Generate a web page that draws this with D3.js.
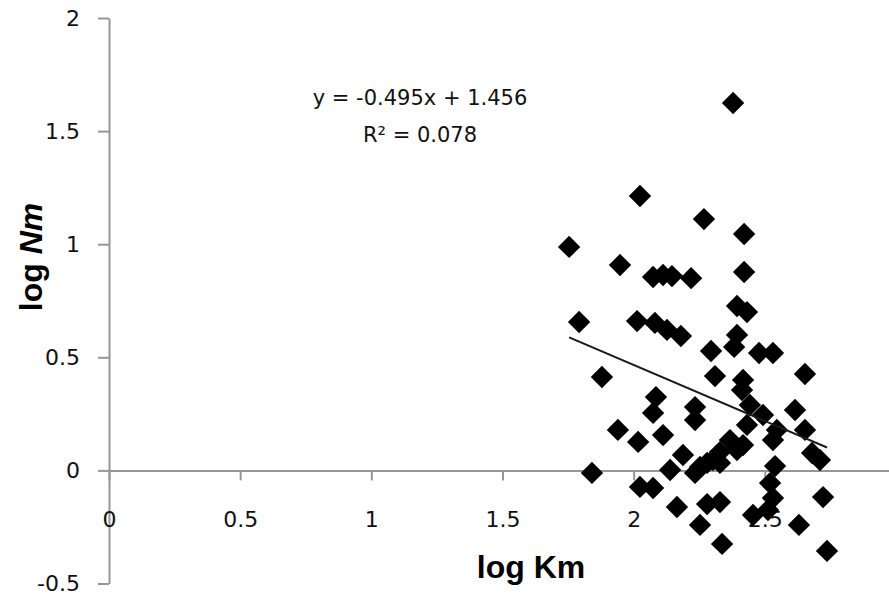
<!DOCTYPE html>
<html>
<head>
<meta charset="utf-8">
<script src="https://cdn.jsdelivr.net/npm/d3@7"></script>
<style>
  html, body { margin: 0; padding: 0; background: white; }
  svg { display: block; }
</style>
</head>
<body>
<div id="chart"></div>
<script>
// log Km / log Nm values
var logKm = [2.379, 2.024, 2.268, 2.421, 1.754, 1.948, 2.074, 2.112, 2.146, 2.219,
    2.421, 1.792, 2.013, 2.081, 2.127, 2.180, 2.394, 2.432, 2.295, 2.383,
    2.394, 2.478, 2.531, 2.310, 2.417, 2.413, 2.653, 1.879, 2.085, 2.074,
    2.234, 2.234, 2.443, 2.493, 2.615, 2.653, 2.432, 2.531, 2.546, 2.710,
    2.680, 2.367, 2.417, 2.329, 2.302, 2.253, 2.188, 2.234, 2.539, 2.520,
    2.531, 2.512, 2.722, 2.280, 2.329, 2.165, 2.253, 2.455, 2.630, 2.337,
    2.737, 1.940, 2.017, 2.112, 2.139, 1.841, 2.024, 2.074, 2.280, 2.329,
    2.394];
var logNm = [1.624, 1.213, 1.111, 1.045, 0.988, 0.908, 0.855, 0.864, 0.859, 0.850,
    0.877, 0.656, 0.660, 0.652, 0.621, 0.594, 0.727, 0.700, 0.528, 0.546,
    0.599, 0.519, 0.519, 0.417, 0.400, 0.355, 0.426, 0.413, 0.324, 0.254,
    0.280, 0.223, 0.289, 0.245, 0.267, 0.179, 0.201, 0.134, 0.179, 0.046,
    0.077, 0.134, 0.112, 0.081, 0.046, 0.015, 0.068, -0.011, 0.019, -0.056,
    -0.122, -0.175, -0.118, -0.149, -0.140, -0.162, -0.241, -0.197, -0.241, -0.325,
    -0.356, 0.179, 0.126, 0.156, 0.002, -0.011, -0.073, -0.078, 0.033, 0.033,
    0.090];

var xTicks = [0, 0.5, 1, 1.5, 2, 2.5, 3];
var xTickLabels = ["0", "0.5", "1", "1.5", "2", "2.5", "3"];
var yTicks = [-0.5, 0, 0.5, 1, 1.5, 2];
var yTickLabels = ["-0.5", "0", "0.5", "1", "1.5", "2"];

var slope = -0.495;
var intercept = 1.456;
var eqText = "y = -0.495x + 1.456";
var r2Text = "R² = 0.078";

var width = 889, height = 596;
var axisColor = "#969696";

var svg = d3.select("#chart").append("svg")
    .attr("width", width)
    .attr("height", height);

var x = d3.scaleLinear().domain([0, 3]).range([109, 896]);
var y = d3.scaleLinear().domain([-0.5, 2]).range([583.5, 18]);

// y axis
var yAxis = svg.append("g")
    .attr("transform", "translate(" + x(0) + ",0)")
    .call(d3.axisLeft(y)
        .tickValues(yTicks)
        .tickFormat(function(d, i) { return yTickLabels[i]; })
        .tickSize(11)
        .tickSizeOuter(0)
        .tickPadding(18));

// x axis sits on y = 0
var xAxis = svg.append("g")
    .attr("transform", "translate(0," + y(0) + ")")
    .call(d3.axisBottom(x)
        .tickValues(xTicks)
        .tickFormat(function(d, i) { return xTickLabels[i]; })
        .tickSize(10)
        .tickSizeOuter(0)
        .tickPadding(31));

svg.selectAll(".domain, .tick line")
    .attr("stroke", axisColor)
    .attr("stroke-width", 2);
svg.selectAll(".tick text")
    .attr("fill", "#111")
    .style("font-family", "'DejaVu Sans', sans-serif")
    .style("font-size", "22px");

// points
var pts = logKm.map(function(d, i) { return [d, logNm[i]]; });
svg.append("g")
    .selectAll("path")
    .data(pts)
    .enter()
    .append("path")
    .attr("d", d3.symbol().type(d3.symbolSquare).size(250))
    .attr("transform", function(d) {
        return "translate(" + x(d[0]) + "," + y(d[1]) + ") rotate(45)";
    })
    .attr("fill", "black");

// linear trendline over the data range
var xr = d3.extent(logKm);
svg.append("line")
    .attr("x1", x(xr[0]))
    .attr("y1", y(slope * xr[0] + intercept))
    .attr("x2", x(xr[1]))
    .attr("y2", y(slope * xr[1] + intercept))
    .attr("stroke", "#1a1a1a")
    .attr("stroke-width", 2);

// equation label
var eq = svg.append("g")
    .style("font-family", "'DejaVu Sans', sans-serif")
    .style("font-size", "21px")
    .attr("fill", "#111")
    .attr("text-anchor", "middle");
eq.append("text").attr("x", 420).attr("y", 105).text(eqText);
eq.append("text").attr("x", 420).attr("y", 142).text(r2Text);

// axis titles
svg.append("text")
    .attr("x", 531)
    .attr("y", 578)
    .attr("text-anchor", "middle")
    .style("font-family", "'Liberation Sans', Arial, sans-serif")
    .style("font-size", "32px")
    .style("font-weight", "bold")
    .text("log Km");

var yt = svg.append("text")
    .attr("transform", "translate(42,257) rotate(-90)")
    .attr("text-anchor", "middle")
    .style("font-family", "'Liberation Sans', Arial, sans-serif")
    .style("font-size", "32px")
    .style("font-weight", "bold");
yt.append("tspan").text("log ");
yt.append("tspan").style("font-style", "italic").text("Nm");
</script>
</body>
</html>
